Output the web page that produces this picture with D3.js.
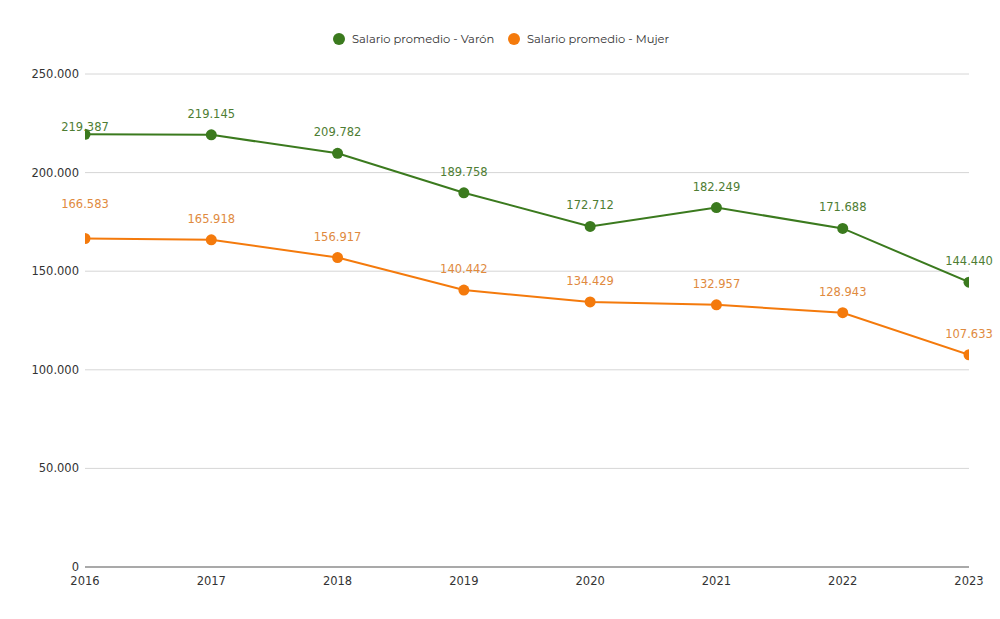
<!DOCTYPE html>
<html><head><meta charset="utf-8">
<script src="https://cdn.jsdelivr.net/npm/d3@7"></script>
<style>body{margin:0;background:#fff}</style>
</head><body>
<svg id="c" width="1000" height="619"></svg>
<script>
const years = ["2016","2017","2018","2019","2020","2021","2022","2023"];
const varon = [219387,219145,209782,189758,172712,182249,171688,144440];
const mujer = [166583,165918,156917,140442,134429,132957,128943,107633];
const yTicks = [0,50000,100000,150000,200000,250000];
const seriesNames = ["Salario promedio - Varón","Salario promedio - Mujer"];
const colors = ["#3b7a1e","#f47a0c"];
const labelColors = ["#4e7d33","#e08a3e"];

const svg = d3.select("#c");
const L=85,R=969,T=74,B=567;
const x = d3.scalePoint().domain(years).range([L,R]);
const y = d3.scaleLinear().domain([0,250000]).range([B,T]);
const fmt = v => d3.format(",")(v).replace(/,/g,".");
const font = "DejaVu Sans, Verdana, sans-serif";

svg.append("defs").append("clipPath").attr("id","clip")
  .append("rect").attr("x",L).attr("y",0).attr("width",R-L).attr("height",B+10);

svg.append("g").selectAll("line").data(yTicks.filter(d=>d>0)).join("line")
  .attr("x1",L).attr("x2",R).attr("y1",d=>y(d)).attr("y2",d=>y(d))
  .attr("stroke","#d6d6d6").attr("stroke-width",1);
svg.append("line").attr("x1",L).attr("x2",R).attr("y1",y(0)).attr("y2",y(0))
  .attr("stroke","#555").attr("stroke-width",1.2);

svg.append("g").selectAll("text").data(yTicks).join("text")
  .attr("x",L-6).attr("y",d=>y(d)).attr("dy","0.35em").attr("text-anchor","end")
  .attr("font-family",font).attr("font-size",11.5).attr("fill","#333")
  .text(d=>fmt(d));
svg.append("g").selectAll("text").data(years).join("text")
  .attr("x",d=>x(d)).attr("y",B+18).attr("text-anchor","middle")
  .attr("font-family",font).attr("font-size",11.5).attr("fill","#333")
  .text(d=>d);

const series=[varon,mujer];
const line = d3.line().x((d,i)=>x(years[i])).y(d=>y(d));
const plot = svg.append("g").attr("clip-path","url(#clip)");
series.forEach((s,k)=>{
  plot.append("path").datum(s).attr("d",line).attr("fill","none")
    .attr("stroke",colors[k]).attr("stroke-width",2);
  plot.append("g").selectAll("circle").data(s).join("circle")
    .attr("cx",(d,i)=>x(years[i])).attr("cy",d=>y(d)).attr("r",5.5).attr("fill",colors[k]);
  svg.append("g").selectAll("text").data(s).join("text")
    .attr("x",(d,i)=>x(years[i]))
    .attr("y",(d,i)=>{
      let off = 21;
      if(i===0) off = k===0 ? 7 : 35;
      return y(d)-off;
    })
    .attr("dy","0.35em").attr("text-anchor","middle")
    .attr("font-family",font).attr("font-size",11.5).attr("fill",labelColors[k])
    .text(d=>fmt(d));
});

const leg = svg.append("g");
const lx=[339,514];
seriesNames.forEach((n,k)=>{
  leg.append("circle").attr("cx",lx[k]).attr("cy",39).attr("r",6).attr("fill",colors[k]);
  leg.append("text").attr("x",lx[k]+13).attr("y",39).attr("dy","0.35em")
    .attr("font-family","Montserrat, Open Sans, sans-serif").attr("font-size",11.5).attr("fill","#333").text(n);
});
</script>
</body></html>
